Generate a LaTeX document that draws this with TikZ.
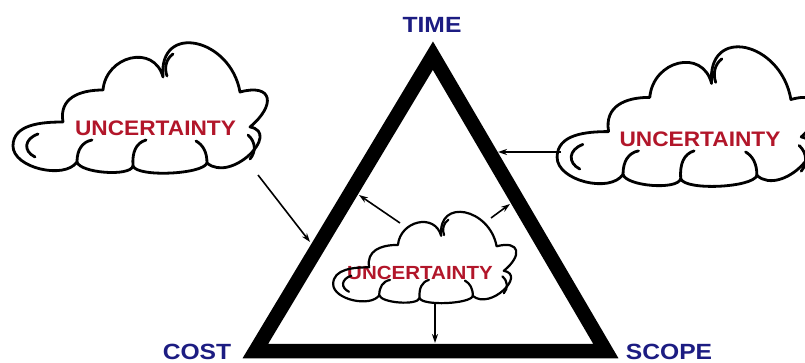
\documentclass[tikz,border=0pt]{standalone}
\usepackage{fontspec}
\setmainfont{Liberation Sans}
\usetikzlibrary{arrows.meta}
\definecolor{labblue}{RGB}{28,28,130}
\definecolor{uncred}{RGB}{178,22,42}
\newcommand\cloudoutline{%
 (53,-80) to[out=100,in=180,looseness=1.2] (93,-48)
 to[out=85,in=105,looseness=1.44] (153,-35)
 to[out=95,in=100,looseness=1.8] (230,-50)
 to[out=15,in=40,looseness=2.4] (240,-85)
 to[out=-10,in=-40,looseness=1.46] (197,-121)
 to[out=-110,in=-70,looseness=0.42] (123,-124)
 to[out=-105,in=-75,looseness=0.52] (67,-120)
 to[out=-125,in=-90,looseness=0.85] (3,-104)
 to[out=90,in=180,looseness=1.0] (53,-80)}
\newcommand\clouddetails{%
 (28,-92) .. controls (14,-97) and (13,-109) .. (25,-115)
 (163,-12) .. controls (156,-17) and (154,-26) .. (157,-34)
 (238,-93) .. controls (246,-100) and (246,-110) .. (240,-117)
 (67,-120) .. controls (67,-108) and (72,-100) .. (82,-98)
 (123,-124) .. controls (122,-110) and (126,-101) .. (136,-98)
 (197,-121) .. controls (197,-110) and (193,-103) .. (186,-99)}
\begin{document}
\begin{tikzpicture}[x=1pt,y=1pt,
  cloudline/.style={draw=black,line width=2.8pt,line join=round,line cap=round},
  lab/.style={text=labblue,font=\fontsize{22}{22}\selectfont\bfseries,inner sep=0pt,xscale=1.12},
  unc/.style={text=uncred,font=\fontsize{21}{21}\selectfont\bfseries,inner sep=0pt,xscale=1.08},
  conn/.style={draw=black,line width=1.6pt,-{Stealth[length=9pt,width=6pt]}},
  frame/.style={draw=black,line width=14.5pt,line join=miter}]
\fill[white] (0,0) rectangle (805,-363);
\useasboundingbox (0,0) rectangle (805,-363);
% triangle
\draw[frame] (432.9,-55.7) -- (255.4,-351) -- (605.8,-351) -- cycle;
% labels
\node[lab] (time) at (432,-25) {TIME};
\node[lab] (cost) at (197,-352) {COST};
\node[lab] (scope) at (669,-352) {SCOPE};
% cloud texts
\node[unc] (unc1) at (155.5,-128) {UNCERTAINTY};
\node[unc] (unc2) at (700,-139) {UNCERTAINTY};
\node[unc,font=\fontsize{19}{19}\selectfont\bfseries,xscale=1.0] (unc3) at (420,-273) {UNCERTAINTY};
% clouds
\begin{scope}[shift={(10,-42)}]
  \draw[cloudline] \cloudoutline;
  \draw[cloudline] \clouddetails;
\end{scope}
\begin{scope}[shift={(554,-46)},xscale=1.03,yscale=1.07]
  \draw[cloudline] \cloudoutline;
  \draw[cloudline] \clouddetails;
\end{scope}
\begin{scope}[shift={(331,-211.3)},xscale=0.72,yscale=0.70]
  \draw[cloudline,line width=2.2pt] \cloudoutline;
  \draw[cloudline,line width=2.2pt] \clouddetails;
\end{scope}
% connector end points
\coordinate (lcs) at (258,-175);
\coordinate (tl) at (310,-242);
\coordinate (rcs) at (561,-152);
\coordinate (tr) at (498,-152);
\coordinate (ca) at (400,-223);
\coordinate (ta) at (359,-195);
\coordinate (cb) at (491,-218);
\coordinate (tb) at (510,-204);
\coordinate (cc) at (435,-302);
\coordinate (tc) at (435,-343);
\draw[conn] (lcs) -- (tl);
\draw[conn] (rcs) -- (tr);
\draw[conn] (ca) -- (ta);
\draw[conn] (cb) -- (tb);
\draw[conn] (cc) -- (tc);
\end{tikzpicture}
\end{document}
